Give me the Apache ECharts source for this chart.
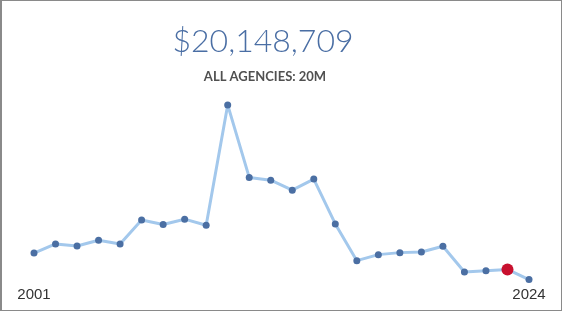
<!DOCTYPE html>
<html>
<head>
<meta charset="utf-8">
<script src="https://cdn.jsdelivr.net/npm/echarts@6/dist/echarts.min.js"></script>
<style>
  html, body { margin: 0; padding: 0; background: #fff; }
  #chart { width: 562px; height: 311px; box-sizing: border-box; border: 1px solid #8a8a8a; border-left-width: 2px; }
</style>
</head>
<body>
<div id="chart"></div>
<script>
// spending per year (millions)
let years = ['2001', '2002', '2003', '2004', '2005', '2006', '2007', '2008', '2009', '2010', '2011', '2012',
             '2013', '2014', '2015', '2016', '2017', '2018', '2019', '2020', '2021', '2022', '2023', '2024'];
let amounts = [30.7, 36.6, 35.3, 39.0, 36.6, 52.2, 49.2, 52.7, 48.8, 126.8, 79.8, 78.0,
               71.5, 78.7, 49.6, 25.8, 29.7, 31.0, 31.4, 35.1, 18.4, 19.3, 20.1, 13.5];
let highlightYear = '2023';
let headline = '$20,148,709';
let subline = 'ALL AGENCIES: 20M';

let chart = echarts.init(document.getElementById('chart'));

const seriesData = amounts.map(function (v, i) {
    if (years[i] === highlightYear) {
        return { value: v, symbolSize: 12, itemStyle: { color: '#c8102e' } };
    }
    return v;
});

const option = {
    animation: false,
    title: [
        {
            text: headline,
            left: 256,
            top: 20,
            textAlign: 'center',
            textStyle: { fontFamily: 'Lato', fontWeight: 300, fontSize: 32, color: '#4a6ea4' }
        },
        {
            text: subline,
            left: 258,
            top: 64,
            textAlign: 'center',
            textStyle: { fontFamily: 'Lato', fontWeight: 'bold', fontSize: 13, color: '#505050' }
        }
    ],
    grid: { left: 32, right: 32, top: 99, bottom: 25 },
    xAxis: {
        type: 'category',
        boundaryGap: false,
        data: years,
        axisLine: { show: false },
        axisTick: { show: false },
        axisLabel: {
            margin: 2,
            fontFamily: 'Liberation Sans',
            fontSize: 15,
            color: '#333',
            interval: function (i) { return i === 0 || i === years.length - 1; }
        }
    },
    yAxis: {
        type: 'value',
        min: 10,
        max: 130,
        show: false
    },
    series: [
        {
            type: 'line',
            data: seriesData,
            symbol: 'circle',
            symbolSize: 7,
            lineStyle: { color: '#a3c8ec', width: 3 },
            itemStyle: { color: '#4b6fa3' }
        }
    ]
};
chart.setOption(option);
</script>
</body>
</html>
